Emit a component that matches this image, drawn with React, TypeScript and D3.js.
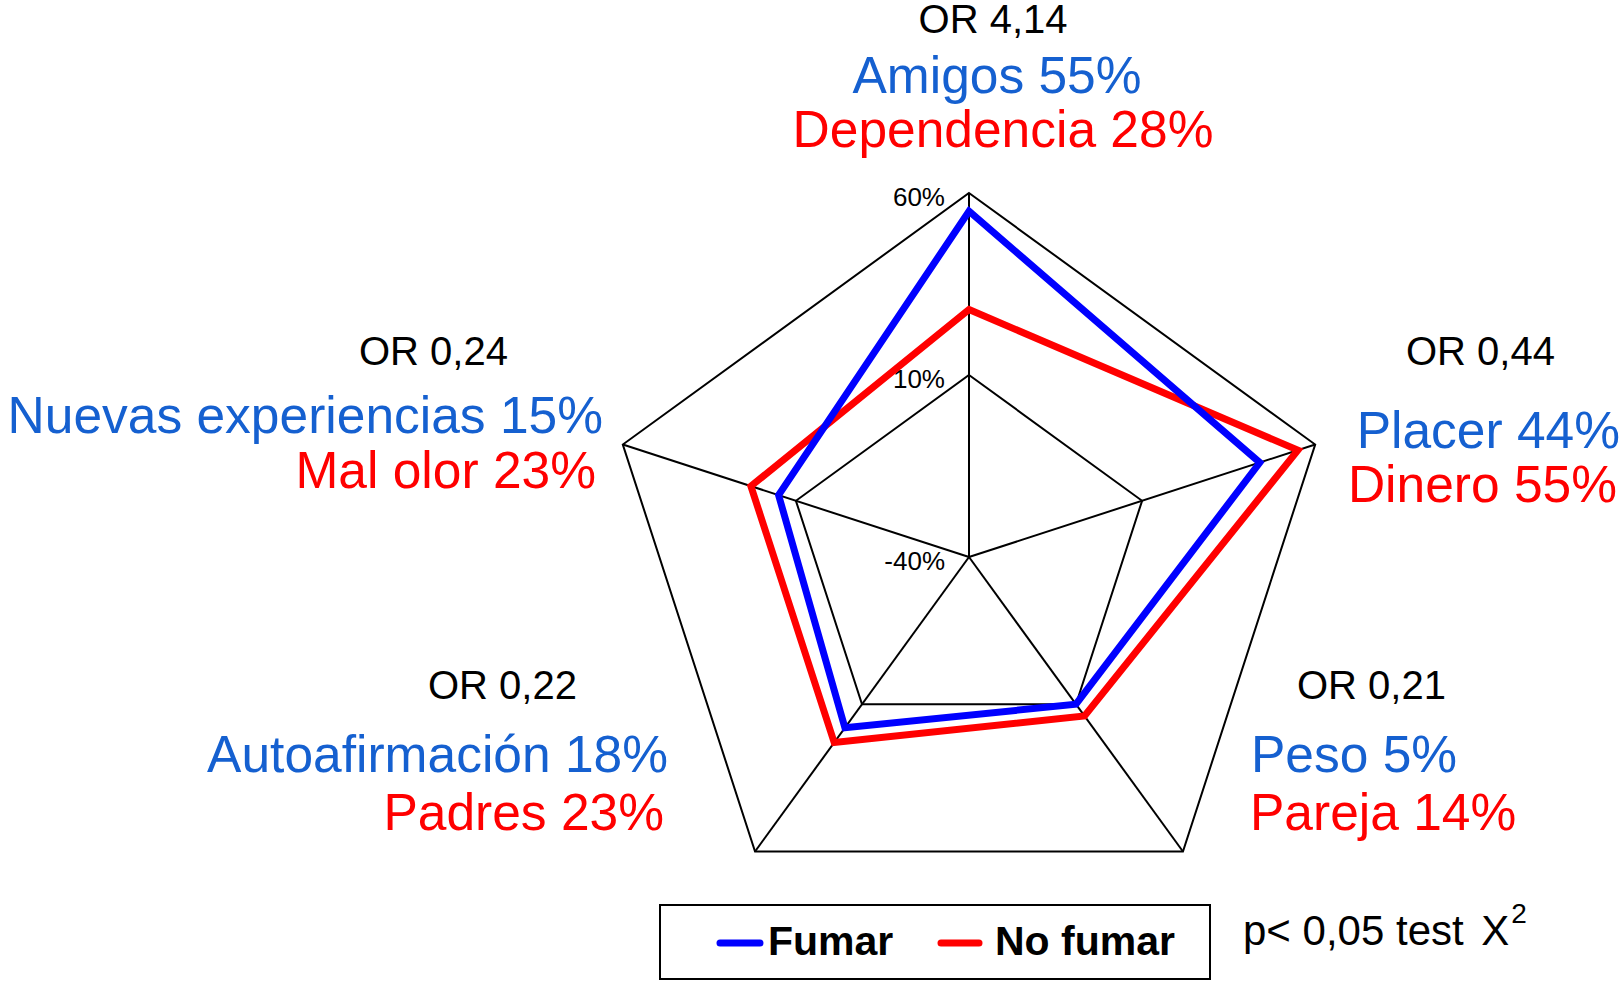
import React from "react";
import * as d3 from "d3";

// axis order: clockwise from the top
const orLabels = ["OR 4,14", "OR 0,44", "OR 0,21", "OR 0,22", "OR 0,24"];
const fumarLabels = ["Amigos 55%", "Placer 44%", "Peso 5%", "Autoafirmación 18%", "Nuevas experiencias 15%"];
const noFumarLabels = ["Dependencia 28%", "Dinero 55%", "Pareja 14%", "Padres 23%", "Mal olor 23%"];

const fumar = [55, 44, 10, 18, 15];
const noFumar = [28, 55, 14, 23, 23];

const ringValues = [-40, 10, 60];
const ringLabels = ["-40%", "10%", "60%"];

const W = 1624;
const H = 983;
const CX = 969;
const CY = 557;
const R = 364;

const BLUE_LINE = "#0000ff";
const RED_LINE = "#ff0000";
const BLUE_TEXT = "#1560d0";
const RED_TEXT = "#ff0000";
const FONT = "'Liberation Sans', Arial, Helvetica, sans-serif";

// where each axis' block of labels sits (or / fumar / no fumar)
type Anchor = "start" | "middle" | "end";
const labelLayout: { x: number; y: number; a: Anchor }[][] = [
  [{ x: 993, y: 33, a: "middle" }, { x: 997, y: 93, a: "middle" }, { x: 1003, y: 147, a: "middle" }],
  [{ x: 1406, y: 365, a: "start" }, { x: 1620, y: 448, a: "end" }, { x: 1617, y: 502, a: "end" }],
  [{ x: 1297, y: 699, a: "start" }, { x: 1251, y: 772, a: "start" }, { x: 1250, y: 830, a: "start" }],
  [{ x: 428, y: 699, a: "start" }, { x: 668, y: 772, a: "end" }, { x: 664, y: 830, a: "end" }],
  [{ x: 359, y: 365, a: "start" }, { x: 603, y: 433, a: "end" }, { x: 596, y: 488, a: "end" }],
];

export default function App() {
  const n = orLabels.length;
  const r = d3.scaleLinear().domain([-40, 60]).range([0, R]);
  const angle = (i: number) => (i * 2 * Math.PI) / n;

  const radial = d3
    .lineRadial<number>()
    .angle((_, i) => angle(i))
    .radius((v) => r(v))
    .curve(d3.curveLinearClosed);

  const outer = ringValues[ringValues.length - 1];

  return (
    <svg
      width={W}
      height={H}
      viewBox={`0 0 ${W} ${H}`}
      style={{ position: "absolute", left: 0, top: 0, background: "#fff" }}
      fontFamily={FONT}
    >
      <g transform={`translate(${CX},${CY})`}>
        {ringValues
          .filter((v) => r(v) > 0)
          .map((v) => (
            <path key={v} d={radial(d3.range(n).map(() => v)) || ""} fill="none" stroke="#000" strokeWidth={2} />
          ))}
        {d3.range(n).map((i) => {
          const a = angle(i);
          return (
            <line
              key={i}
              x1={0}
              y1={0}
              x2={r(outer) * Math.sin(a)}
              y2={-r(outer) * Math.cos(a)}
              stroke="#000"
              strokeWidth={2}
            />
          );
        })}
        {ringValues.map((v, i) => (
          <text key={v} x={-24} y={-r(v) + 13} textAnchor="end" fontSize={26} fill="#000">
            {ringLabels[i]}
          </text>
        ))}
        <path d={radial(noFumar) || ""} fill="none" stroke={RED_LINE} strokeWidth={7} strokeLinejoin="miter" />
        <path d={radial(fumar) || ""} fill="none" stroke={BLUE_LINE} strokeWidth={7} strokeLinejoin="miter" />
      </g>

      {orLabels.map((or, i) => {
        const [l0, l1, l2] = labelLayout[i];
        return (
          <g key={or}>
            <text x={l0.x} y={l0.y} textAnchor={l0.a} fontSize={40} fill="#000">
              {or}
            </text>
            <text x={l1.x} y={l1.y} textAnchor={l1.a} fontSize={51.5} fill={BLUE_TEXT}>
              {fumarLabels[i]}
            </text>
            <text x={l2.x} y={l2.y} textAnchor={l2.a} fontSize={51.5} fill={RED_TEXT}>
              {noFumarLabels[i]}
            </text>
          </g>
        );
      })}

      <g>
        <rect x={660} y={905} width={550} height={74} fill="#fff" stroke="#000" strokeWidth={2} />
        <line x1={720} x2={760} y1={943} y2={943} stroke={BLUE_LINE} strokeWidth={7} strokeLinecap="round" />
        <text x={768} y={955} fontSize={41} fontWeight="bold" fill="#000">
          Fumar
        </text>
        <line x1={941} x2={979} y1={943} y2={943} stroke={RED_LINE} strokeWidth={7} strokeLinecap="round" />
        <text x={995} y={955} fontSize={41} fontWeight="bold" fill="#000">
          No fumar
        </text>
        <text x={1243} y={945} fontSize={42} fill="#000">
          p{"< 0,05 test "}
          <tspan dx={6}>X</tspan>
          <tspan fontSize={28} dx={2} dy={-22}>
            2
          </tspan>
        </text>
      </g>
    </svg>
  );
}
